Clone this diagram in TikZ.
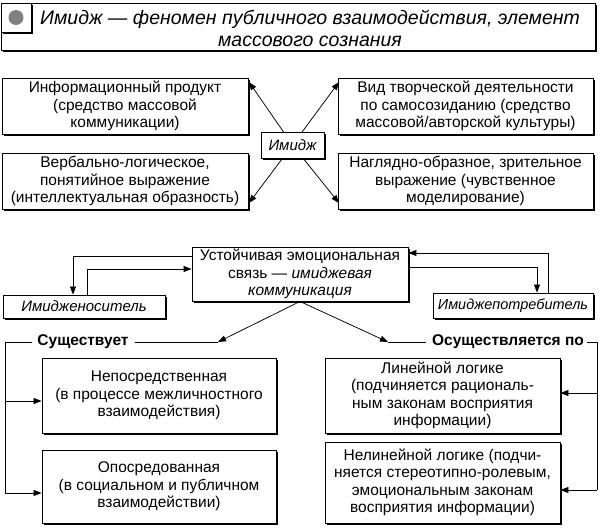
\documentclass[tikz,border=0pt]{standalone}
\usepackage{fontspec}
\setmainfont{Liberation Sans}
\usetikzlibrary{shadows,arrows.meta,backgrounds,calc}
\begin{document}
\begin{tikzpicture}[x=1pt,y=-1pt,
  box/.style={draw, line width=0.9pt, fill=white, align=center, inner sep=0pt,
    drop shadow={shadow xshift=2pt, shadow yshift=-2pt, opacity=1, fill=black},
    font=\fontsize{15.5}{17.5}\selectfont},
  ibox/.style={box, font=\itshape\fontsize{15}{18}\selectfont},
  arr/.style={line width=0.75pt, -{Triangle[length=8pt,width=6pt]}},
  ln/.style={line width=0.75pt},
  lbl/.style={font=\bfseries\fontsize{15.5}{17}\selectfont, inner sep=0pt, fill=white}
]
\useasboundingbox (0,0) rectangle (600,528);
% title
\node[box, minimum width=594pt, minimum height=47pt] (title) at (298,26.5) {};
\node[font=\itshape\fontsize{19.5}{22}\selectfont, align=center, inner sep=0pt] (titletext) at (310,28)
  {Имидж — феномен публичного взаимодействия, элемент\\массового сознания};
\node[box, minimum width=30pt, minimum height=29pt] (bul) at (16,17.5) {};
\node[circle, fill=gray, minimum size=15pt, inner sep=0pt] (dot) at (bul.center) {};

% top section
\node[box, minimum width=246pt, minimum height=56pt] (lt) at (125,106) {Информационный продукт\\(средство массовой\\коммуникации)};
\node[box, minimum width=246pt, minimum height=56pt] (lb) at (125,181) {Вербально-логическое,\\понятийное выражение\\(интеллектуальная образность)};
\node[box, minimum width=255pt, minimum height=56pt] (rt) at (465.5,106) {Вид творческой деятельности\\по самосозиданию (средство\\массовой/авторской культуры)};
\node[box, minimum width=255pt, minimum height=56pt] (rb) at (465.5,181) {Наглядно-образное, зрительное\\выражение (чувственное\\моделирование)};
\coordinate (xlt) at (249,82);
\coordinate (xlb) at (249,203);
\coordinate (xrt) at (339,82);
\coordinate (xrb) at (339,203);
\node[ibox, minimum width=63pt, minimum height=26pt] (img) at (292.5,145) {Имидж};
\begin{scope}[on background layer]
\draw[arr] (img.center) -- (xlt);
\draw[arr] (img.center) -- (xlb);
\draw[arr] (img.center) -- (xrt);
\draw[arr] (img.center) -- (xrb);
\end{scope}

% middle
\node[box, minimum width=216pt, minimum height=54pt] (comm) at (300,274) {Устойчивая эмоциональная\\связь — \textit{имиджевая}\\\textit{коммуникация}};
\node[ibox, minimum width=162pt, minimum height=23pt] (nos) at (84,306.5) {Имидженоситель};
\node[ibox, minimum width=160pt, minimum height=25pt, font=\itshape\fontsize{14.5}{17}\selectfont] (potr) at (513,305.5) {Имиджепотребитель};

\draw[arr] (comm.west |- 0,256) -| (73,0 |- nos.north);
\draw[arr] (87,0 |- nos.north) |- (comm.west |- 0,269);
\draw[arr] (548,0 |- potr.north) |- (comm.east |- 0,253);
\draw[arr] (comm.east |- 0,267) -| (537,0 |- potr.north);

% labels
\node[lbl] (sush) at (83,342) {Существует};
\node[lbl] (osush) at (508,342) {Осуществляется по};
\coordinate (la) at (218,342);
\coordinate (ra) at (388,342);
\draw[arr] (comm.south) -- (la);
\draw[arr] (comm.south) -- (ra);
\draw[ln] (sush.east) ++(6,0) -- (la);
\draw[ln] (osush.west) ++(-6,0) -- (ra);

% bottom boxes
\node[box, minimum width=234pt, minimum height=75pt] (nep) at (159,395.5) {Непосредственная\\(в процессе межличностного\\взаимодействия)};
\node[box, minimum width=234pt, minimum height=73pt] (opo) at (159,486.5) {Опосредованная\\(в социальном и публичном\\взаимодействии)};
\node[box, minimum width=235pt, minimum height=75pt] (lin) at (442.5,395.5) {Линейной логике\\(подчиняется рациональ-\\ным законам восприятия\\информации)};
\node[box, minimum width=235pt, minimum height=81pt] (nelin) at (442.5,482.5) {Нелинейной логике (подчи-\\няется стереотипно-ролевым,\\эмоциональным законам\\восприятия информации)};

\coordinate (lbr) at (5,342);
\draw[ln] ([xshift=-5pt]sush.west) -- (lbr) -- (5,493);
\draw[arr] (5,401) -- (nep.west |- 0,401);
\draw[arr] (5,493) -- (opo.west |- 0,493);
\coordinate (rbr) at (597,342);
\draw[ln] ([xshift=3pt]osush.east) -- (rbr) -- (597,490);
\draw[arr] (597,393) -- (lin.east |- 0,393);
\draw[arr] (597,490) -- (nelin.east |- 0,490);
\end{tikzpicture}
\end{document}
